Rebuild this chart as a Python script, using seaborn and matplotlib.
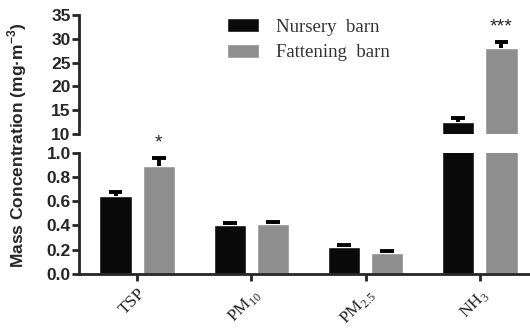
import numpy as np
import pandas as pd
import matplotlib
matplotlib.use("Agg")
import matplotlib.pyplot as plt
import seaborn as sns

# values (mg/m3)
pollutants = ["TSP", "PM$_{\\mathregular{10}}$", "PM$_{\\mathregular{2.5}}$", "NH$_{\\mathregular{3}}$"]
barns = ["Nursery  barn", "Fattening  barn"]
nursery = [0.64, 0.40, 0.225, 12.5]
nursery_err = [0.035, 0.02, 0.015, 0.9]
fattening = [0.89, 0.41, 0.175, 28.0]
fattening_err = [0.065, 0.02, 0.012, 1.3]
stars = ["*", "", "", "***"]

df = pd.DataFrame({
    "pollutant": pollutants * 2,
    "barn": [barns[0]] * 4 + [barns[1]] * 4,
    "value": nursery + fattening,
    "err": nursery_err + fattening_err,
})

sns.set_style("ticks")
plt.rcParams["font.family"] = ["Liberation Sans", "DejaVu Sans"]
plt.rcParams["mathtext.fontset"] = "custom"
plt.rcParams["mathtext.rm"] = "Liberation Serif"

fig = plt.figure(figsize=(5.3, 3.3), dpi=100)
ax_top = fig.add_axes([0.149, 0.594, 0.851, 0.361])
ax_bot = fig.add_axes([0.149, 0.170, 0.851, 0.367])
ax_top.set_ylim(10, 35)
ax_bot.set_ylim(0, 1.0)

pal = ["#0a0a0a", "#8e8e8e"]
for ax in (ax_top, ax_bot):
    ylo, yhi = ax.get_ylim()
    sns.barplot(data=df, x="pollutant", y="value", hue="barn", palette=pal,
                width=0.76, gap=0.26, errorbar=None, saturation=1,
                legend=(ax is ax_top), ax=ax)
    ax.set_ylim(ylo, yhi)
    # one-sided error bars (upper only) from the drawn bars
    bars = [p for p in ax.patches if p.get_height() > 0]
    xs = np.array([b.get_x() + b.get_width() / 2 for b in bars])
    hs = np.array([b.get_height() for b in bars])
    tops = hs + df["err"].values
    ax.vlines(xs, hs, tops, color="black", lw=2.8)
    ax.hlines(tops, xs - 0.06, xs + 0.06, color="black", lw=2.8)
    ax.set_xlim(-0.51, 3.44)
    ax.set_xlabel("")
    ax.set_ylabel("")
    for sp in ("top", "right"):
        ax.spines[sp].set_visible(False)
    ax.spines["left"].set_linewidth(2)
    ax.tick_params(axis="y", width=2, length=5, labelsize=12.5, pad=1)

    # significance marks above fattening bars, on the panel holding the bar top
    for i, s in enumerate(stars):
        top = fattening[i] + fattening_err[i]
        if s and ylo <= top <= yhi:
            ax.annotate(s, (xs[4 + i], top), xytext=(0, 5), textcoords="offset points",
                        ha="center", va="bottom", fontsize=14, annotation_clip=False)

ax_top.set_yticks([10, 15, 20, 25, 30, 35])
ax_top.set_yticklabels(["10", "15", "20", "25", "30", "35"], fontweight="bold")
ax_top.spines["bottom"].set_visible(False)
ax_top.tick_params(axis="x", bottom=False, labelbottom=False)

ax_bot.set_yticks([0.0, 0.2, 0.4, 0.6, 0.8, 1.0])
ax_bot.set_yticklabels([f"{v:.1f}" for v in [0.0, 0.2, 0.4, 0.6, 0.8, 1.0]], fontweight="bold")
ax_bot.spines["bottom"].set_linewidth(2)
ax_bot.tick_params(axis="x", width=2, length=5)
ax_bot.set_xticks(range(len(pollutants)))
ax_bot.set_xticklabels(pollutants, rotation=45, ha="right", rotation_mode="anchor",
                       fontsize=12.5, family="Liberation Serif")

leg = ax_top.legend(loc="upper left", bbox_to_anchor=(0.428, 0.945), bbox_transform=fig.transFigure,
                    frameon=False, borderpad=0, borderaxespad=0,
                    handlelength=1.7, handleheight=0.75, handletextpad=0.9,
                    labelspacing=0.45, prop={"family": "Liberation Serif", "size": 13.5})
for t in leg.get_texts():
    t.set_color("#333333")

fig.text(0.032, 0.56, "Mass Concentration (mg·m$^{\\mathregular{-3}}$)", rotation=90,
         ha="center", va="center", fontsize=12.5, fontweight="bold")

fig.savefig("out.png", dpi=100)
